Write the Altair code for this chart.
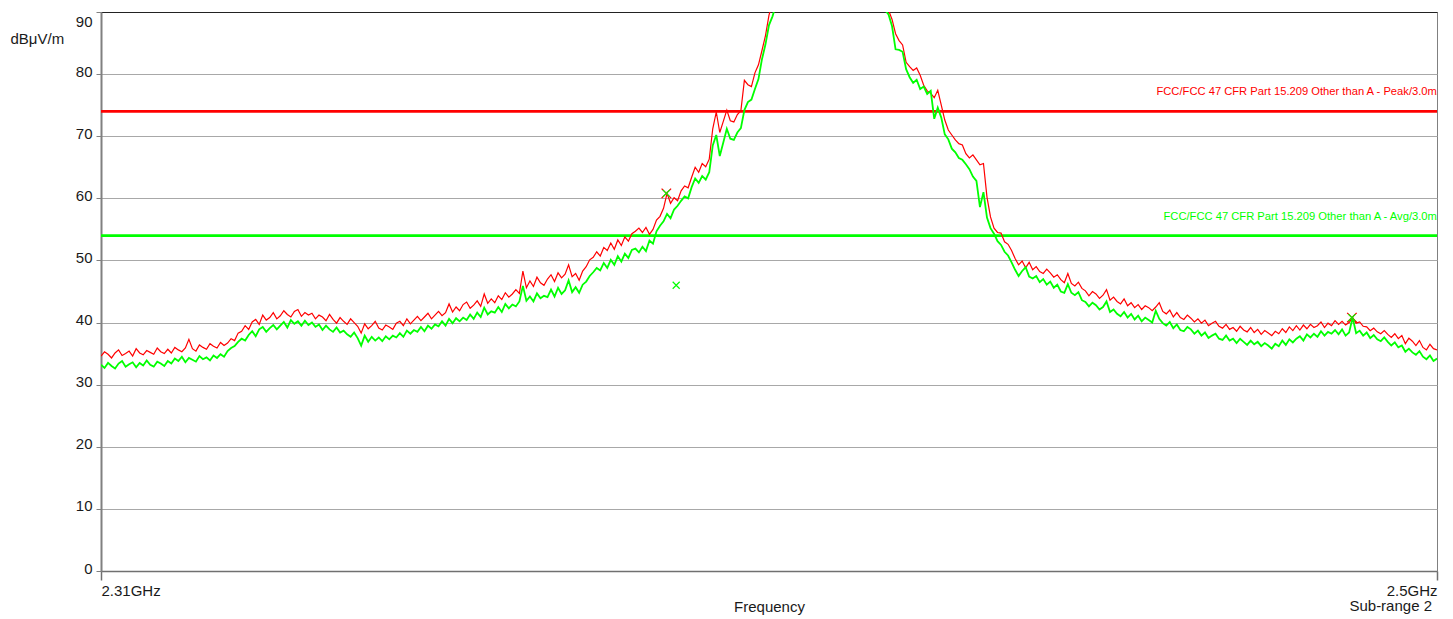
import altair as alt
import pandas as pd

# ---------------- data ----------------
F_START = 2310.0   # MHz
F_STEP = 0.5       # MHz between trace points

PEAK = [
    34.6, 35.3, 34.9, 34.3, 35.1, 35.6, 34.7, 35.0, 35.4, 34.6, 35.8, 35.1, 34.8, 35.5, 35.2, 34.9, 35.9, 35.3, 35.0, 35.7,
    35.1, 36.0, 35.6, 35.3, 35.9, 37.3, 35.8, 35.4, 36.4, 36.0, 35.7, 36.6, 36.2, 35.9, 36.8, 36.3, 36.7, 37.4, 37.1, 38.3,
    38.6, 39.5, 38.9, 40.1, 40.5, 39.7, 41.2, 40.4, 40.8, 41.6, 40.6, 41.1, 41.9, 41.3, 40.9, 41.8, 42.1, 41.0, 41.6, 41.2,
    41.5, 40.6, 41.2, 40.9, 40.3, 41.3, 40.5, 39.9, 40.8, 40.2, 39.7, 40.6, 40.0, 39.4, 38.3, 39.8, 39.0, 39.5, 40.2, 39.1,
    38.8, 39.6, 39.3, 38.9, 39.9, 40.2, 39.5, 40.6, 39.8, 40.4, 41.0, 40.3, 40.9, 41.5, 40.6, 41.2, 41.8, 41.1, 41.6, 43.0,
    41.7, 42.5, 41.9, 42.9, 43.3, 42.3, 42.8, 43.5, 42.6, 44.6, 43.1, 43.8, 43.2, 44.3, 43.7, 44.8, 44.1, 44.6, 45.3, 44.7,
    48.3, 45.6, 46.7, 45.8, 47.3, 46.4, 46.0, 47.0, 47.7, 46.6, 48.0, 47.2, 47.8, 49.3, 47.4, 47.9, 46.8, 48.3, 49.0, 50.1,
    50.5, 51.4, 50.7, 52.1, 51.6, 52.8, 51.8, 53.3, 52.4, 53.8, 53.1, 54.3, 54.7, 55.2, 54.5, 55.3, 54.2, 55.0, 56.5, 57.1,
    58.4, 60.8, 59.2, 60.1, 59.6, 61.2, 62.0, 61.7, 63.4, 65.0, 64.2, 65.6, 65.1, 66.3, 71.2, 73.9, 70.6, 72.4, 74.2, 72.5,
    72.3, 73.5, 74.1, 79.0, 78.3, 78.0, 80.2, 81.5, 83.8, 86.2, 89.5, 91.5, 94.0, 96.0, 98.0, 100.0, 102.0, 103.0, 105.0, 106.0,
    107.0, 108.0, 109.0, 110.0, 110.0, 111.0, 111.0, 111.0, 110.0, 110.0, 109.0, 108.0, 107.0, 106.0, 105.0, 104.0, 103.0, 101.0, 100.0, 98.0,
    96.0, 94.5, 93.0, 91.8, 90.3, 88.8, 86.5, 85.4, 84.7, 81.9, 81.2, 80.6, 81.0, 79.8, 78.2, 77.3, 76.9, 76.2, 77.4, 75.0,
    72.6, 71.0, 70.2, 69.4, 68.8, 68.6, 67.2, 66.5, 67.0, 66.2, 65.4, 65.6, 60.2, 57.0, 55.2, 54.5, 54.4, 53.0, 52.6, 51.6,
    50.3, 49.3, 49.9, 48.8, 49.7, 48.5, 49.0, 48.2, 47.9, 48.6, 48.0, 47.3, 47.7, 46.9, 46.4, 47.9, 46.3, 45.9, 46.5, 45.5,
    45.1, 44.3, 45.0, 44.6, 43.9, 44.4, 45.3, 43.6, 44.1, 43.4, 43.0, 43.8, 42.7, 43.2, 42.4, 42.9, 42.1, 42.7, 42.4, 41.9,
    42.5, 43.2, 41.8, 41.4, 42.0, 40.9, 41.6, 40.8, 40.5, 41.2, 40.7, 40.1, 40.6, 39.9, 40.4, 39.5, 39.9, 40.2, 39.4, 39.1,
    39.7, 38.9, 39.2, 38.6, 39.4, 38.8, 38.5, 39.2, 38.4, 38.9, 38.1, 38.7, 38.3, 37.9, 38.6, 38.2, 39.0, 38.4, 39.3, 38.7,
    39.5, 38.8, 39.6, 39.0, 39.7, 39.2, 39.5, 40.1, 39.2, 39.9, 39.5, 40.3, 39.7, 40.2, 39.6, 40.0, 40.8, 39.9, 40.1, 39.4,
    39.3, 38.7, 39.1, 38.5, 38.2, 38.7, 38.1, 37.6, 38.2, 37.4, 37.9, 36.6, 37.5, 37.0, 36.3, 37.1, 36.0, 35.6, 36.5, 35.8,
    35.6,
]

AVG = [
    33.2, 32.7, 33.5, 33.0, 32.6, 33.4, 33.8, 32.9, 33.3, 33.6, 32.8, 33.5, 33.1, 33.9, 33.2, 32.9, 33.7, 33.4, 33.0, 33.8,
    33.4, 34.2, 33.8, 34.5, 33.6, 34.3, 34.0, 33.7, 34.6, 34.1, 34.4, 33.9, 34.7, 34.3, 34.9, 34.5, 35.4, 35.9, 36.2, 36.9,
    37.4, 37.1, 38.0, 38.6, 37.8, 38.9, 39.3, 38.5, 39.1, 39.6, 38.9, 39.5, 40.1, 39.2, 40.4, 39.8, 40.2, 39.5, 40.3, 39.6,
    40.0, 39.3, 39.7, 38.8, 39.5, 38.9, 38.5, 39.2, 38.4, 38.7, 38.1, 37.7, 38.4, 37.5, 36.3, 37.9, 36.9, 37.7, 37.1, 37.6,
    37.0, 37.8, 37.3, 37.9, 37.6, 38.3, 37.7, 38.7, 38.2, 38.8, 38.5, 39.3, 38.6, 39.5, 39.0, 39.7, 39.4, 40.2, 39.5, 40.6,
    39.9, 40.7, 40.2, 40.8, 40.4, 41.3, 40.6, 41.6, 40.9, 42.4, 41.3, 41.8, 41.6, 42.5, 41.7, 43.0, 42.3, 42.9, 42.6, 43.4,
    45.9, 43.5, 44.2, 43.4, 44.7, 43.9, 44.3, 44.1, 45.3, 44.2, 45.6, 44.6, 45.2, 46.8, 44.9, 45.7, 44.8, 46.1, 46.6, 47.5,
    48.1, 48.8, 48.4, 49.6, 48.8, 50.1, 49.3, 50.7, 49.8, 51.1, 50.4, 51.7, 51.9, 51.3, 52.2, 51.5, 53.2, 52.7, 54.7, 55.6,
    56.3, 57.5, 56.8, 58.2, 58.8, 59.6, 60.3, 60.0, 61.8, 63.2, 62.5, 63.6, 63.0, 64.2, 68.5, 70.2, 66.8, 69.0, 71.2, 69.6,
    69.4, 70.6, 71.3, 74.2, 75.5, 75.9, 77.6, 79.2, 82.4, 84.8, 87.9, 89.3, 91.2, 93.5, 95.5, 97.5, 99.5, 101.0, 103.0, 104.0,
    105.0, 106.0, 107.0, 108.0, 108.0, 109.0, 109.0, 109.0, 108.0, 108.0, 107.0, 106.0, 105.0, 104.0, 103.0, 102.0, 101.0, 99.0, 98.0, 96.0,
    94.5, 93.0, 91.6, 90.3, 89.6, 87.7, 84.0, 83.9, 83.6, 80.8, 79.5, 78.6, 79.1, 77.6, 78.0, 76.8, 77.3, 72.8, 74.6, 73.0,
    70.3, 69.5, 68.0, 67.4, 66.5, 66.2, 65.5, 64.7, 63.5, 62.8, 58.6, 61.0, 56.9, 55.2, 54.3, 53.1, 52.5, 51.4, 50.8, 49.7,
    48.5, 47.5, 48.3, 48.9, 47.4, 47.1, 47.5, 46.5, 47.0, 46.1, 46.6, 45.6, 46.1, 45.0, 44.8, 46.2, 44.8, 44.4, 44.9, 43.6,
    43.3, 42.6, 43.2, 42.8, 42.1, 42.5, 43.4, 41.7, 42.1, 41.4, 41.0, 41.7, 40.8, 41.4, 40.5, 41.1, 40.2, 40.8, 40.4, 40.0,
    41.9, 40.6, 39.9, 39.5, 40.1, 39.1, 39.7, 38.8, 38.6, 39.3, 38.9, 38.2, 38.7, 37.9, 38.4, 37.5, 37.9, 38.2, 37.4, 37.2,
    37.9, 37.1, 37.4, 36.7, 37.4, 36.9, 36.4, 37.1, 36.5, 36.9, 36.2, 36.7, 36.3, 35.8, 36.6, 36.2, 37.1, 36.4, 37.3, 36.8,
    37.4, 37.8, 37.1, 38.1, 37.6, 38.2, 37.7, 38.6, 37.9, 38.5, 38.2, 38.8, 38.1, 38.9, 37.9, 38.4, 40.8, 38.3, 38.7, 37.9,
    38.4, 37.5, 38.0, 37.3, 37.0, 37.6, 36.9, 36.3, 36.8, 36.0, 36.3, 35.3, 35.8, 35.2, 34.8, 35.4, 34.5, 34.1, 34.7, 33.8,
    34.2,
]

LIMIT_NAMES = [
    "FCC/FCC 47 CFR Part 15.209 Other than A - Peak/3.0m/",
    "FCC/FCC 47 CFR Part 15.209 Other than A - Avg/3.0m/",
]
LIMIT_DB = [74.0, 54.0]
LIMIT_KIND = ["Peak", "Avg"]

MARK_F = [2390.4, 2390.4, 2391.8, 2487.9, 2487.9]
MARK_DB = [60.8, 60.8, 46.0, 40.8, 40.8]
MARK_KIND = ["Peak", "Avg", "Avg", "Peak", "Avg"]

X_TICKS = [2310, 2500]
X_TICK_LABELS = ["2.31GHz", "2.5GHz"]
Y_TICKS = [0, 10, 20, 30, 40, 50, 60, 70, 80, 90]

RED = "#ff0000"
GREEN = "#00ff00"
TEXT = "#1a1a1a"
FONT = "Liberation Sans"

# ---------------- tables ----------------
freq = [F_START + F_STEP * i for i in range(len(PEAK))]
peak_df = pd.DataFrame({"f": freq, "db": PEAK})
avg_df = pd.DataFrame({"f": freq[: len(AVG)], "db": AVG})
limit_df = pd.DataFrame({"f": [X_TICKS[-1]] * 2, "db": LIMIT_DB, "kind": LIMIT_KIND, "name": LIMIT_NAMES})
mark_df = pd.DataFrame({"f": MARK_F, "db": MARK_DB, "kind": MARK_KIND})
sub_df = pd.DataFrame({"f": [X_TICKS[-1]], "name": ["Sub-range 2"]})

W, H = 1336, 559

label_expr = " : ".join(
    [f"datum.value == {v} ? '{t}'" for v, t in zip(X_TICKS[:-1], X_TICK_LABELS[:-1])]
    + [f"'{X_TICK_LABELS[-1]}'"]
)

X = alt.X(
    "f:Q",
    scale=alt.Scale(domain=[X_TICKS[0], X_TICKS[-1]], nice=False, zero=False),
    axis=alt.Axis(
        values=X_TICKS,
        labelExpr=label_expr,
        labelFlush=True,
        grid=False,
        tickSize=9,
        tickColor="#707070",
        tickWidth=1.5,
        labelPadding=3,
        labelFontSize=15,
        labelColor=TEXT,
        domainColor="#707070",
        domainWidth=1.5,
        title="Frequency",
        titleFontSize=15,
        titleFontWeight="normal",
        titleColor=TEXT,
        titleY=35,
        titleBaseline="middle",
    ),
)
Y = alt.Y(
    "db:Q",
    scale=alt.Scale(domain=[0, 90], nice=False, zero=False),
    axis=alt.Axis(
        values=Y_TICKS,
        grid=True,
        gridColor={"condition": {"test": "datum.value == 90", "value": "#222222"}, "value": "#a8a8a8"},
        gridWidth=1,
        tickSize=5,
        tickColor="#808080",
        labelPadding=4,
        labelFontSize=15,
        labelColor=TEXT,
        labelBaseline={"condition": {"test": "datum.value == 90", "value": "top"}, "value": "alphabetic"},
        labelOffset=2,
        domainColor="#808080",
        domainWidth=2,
        title="dBμV/m",
        titleAngle=0,
        titleFontSize=15,
        titleFontWeight="normal",
        titleColor=TEXT,
        titleAlign="left",
        titleBaseline="middle",
        titleX=-91,
        titleY=26,
    ),
)

kind_color = alt.Color(
    "kind:N", scale=alt.Scale(domain=["Peak", "Avg"], range=[RED, GREEN]), legend=None
)

limits = alt.Chart(limit_df).mark_rule(strokeWidth=2.8).encode(y=Y, color=kind_color)

limit_text = (
    alt.Chart(limit_df)
    .mark_text(align="right", baseline="middle", dx=3, dy=-19, fontSize=11.2, clip=True)
    .encode(x=X, y=Y, text="name:N", color=kind_color)
)

peak_line = alt.Chart(peak_df).mark_line(color=RED, strokeWidth=1.2, clip=True).encode(x=X, y=Y)
avg_line = alt.Chart(avg_df).mark_line(color=GREEN, strokeWidth=1.8, clip=True).encode(x=X, y=Y)

XSHAPE = "M-1,-1L1,1M-1,1L1,-1"
peak_marks = (
    alt.Chart(mark_df)
    .transform_filter("datum.kind == 'Peak'")
    .mark_point(shape=XSHAPE, size=90, filled=False, strokeWidth=1.3, opacity=1, color=RED)
    .encode(x=X, y=Y)
)
avg_marks = (
    alt.Chart(mark_df)
    .transform_filter("datum.kind == 'Avg'")
    .mark_point(shape=XSHAPE, size=49, filled=False, strokeWidth=1.2, opacity=1, color=GREEN)
    .encode(x=X, y=Y)
)

sub_text = (
    alt.Chart(sub_df)
    .mark_text(align="right", baseline="middle", dx=-5, fontSize=15, color=TEXT)
    .encode(x=X, y=alt.value(H + 35), text="name:N")
)

chart = (
    alt.layer(limits, peak_line, avg_line, peak_marks, avg_marks, limit_text, sub_text)
    .properties(
        width=W,
        height=H,
        autosize=alt.AutoSizeParams(type="none"),
        padding={"left": 93, "top": 4, "right": 8, "bottom": 46},
    )
    .configure(font=FONT)
    .configure_view(stroke="#808080", strokeWidth=1)
)

chart.save("out.html", embed_options={"renderer": "svg", "actions": False})
